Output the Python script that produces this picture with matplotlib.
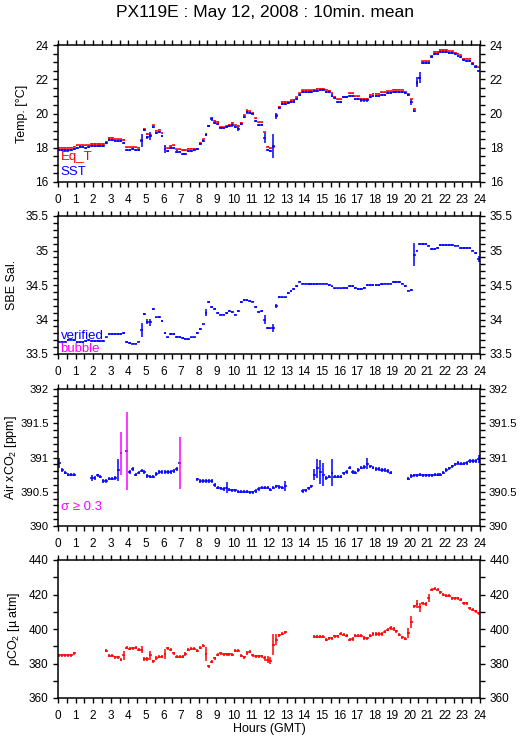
import numpy as np
import matplotlib
matplotlib.use('Agg')
import matplotlib.pyplot as plt
from matplotlib.ticker import MultipleLocator

plt.rcParams['font.family'] = ['Liberation Sans', 'DejaVu Sans']
plt.rcParams['mathtext.fontset'] = 'custom'
plt.rcParams['mathtext.rm'] = 'Liberation Sans'
plt.rcParams['mathtext.it'] = 'Liberation Sans:italic'

# 10-min slots, 144 per day
eq_t = [
    18.0, 18.0, 18.0, 18.0, 18.0, 18.06,
    18.14, 18.14, 18.14, 18.14, 18.14, 18.21,
    18.21, 18.21, 18.21, 18.21, 18.35, 18.56,
    18.56, 18.5, 18.5, 18.5, 18.45, 18.02,
    18.02, 18.02, 18.02, 18.0, 18.45, 19.1,
    18.8, 18.72, 19.3, 19.0, 19.05, 18.85,
    18.1, 17.96, 18.1, 18.14, 17.9, 17.9,
    17.86, 17.86, 17.95, 17.95, 17.95, 17.95,
    18.3, 18.5, 18.8, 19.27, 19.75, 19.57,
    19.5, 19.2, 19.2, 19.28, 19.35, 19.45,
    19.3, 19.27, 19.45, 19.9, 20.18, 20.12,
    20.05, 19.72, 19.48, 19.48, 18.9, 18.06,
    17.96, 18.06, 19.9, 20.4, 20.68, 20.68,
    20.7, 20.76, 20.8, 20.94, 21.17, 21.35,
    21.35, 21.35, 21.35, 21.4, 21.43, 21.45,
    21.45, 21.4, 21.33, 21.17, 20.98, 20.82,
    20.82, 20.98, 20.98, 21.17, 21.17, 21.0,
    21.0, 20.86, 20.86, 20.86, 21.07, 21.15,
    21.15, 21.15, 21.23, 21.23, 21.3, 21.3,
    21.4, 21.4, 21.4, 21.4, 21.27, 21.15,
    20.82, 20.27, 21.75, 22.1, 23.05, 23.05,
    23.05, 23.35, 23.6, 23.6, 23.7, 23.7,
    23.7, 23.63, 23.63, 23.55, 23.5, 23.4,
    23.2, 23.2, 23.2, 22.97, 22.8, 22.7,
]
sst = [
    17.88, 17.86, 17.84, 17.84, 17.88, 17.94,
    18.0, 18.02, 18.02, 18.0, 18.02, 18.08,
    18.1, 18.1, 18.1, 18.1, 18.25, 18.48,
    18.48, 18.42, 18.42, 18.42, 18.25, 17.88,
    17.88, 17.9, 17.88, 17.88, 18.42, 19.03,
    18.6, 18.68, 19.2, 18.88, 18.9, 18.7,
    17.9, 17.8, 18.0, 17.96, 17.78, 17.73,
    17.63, 17.65, 17.8, 17.8, 17.88, 17.9,
    18.2, 18.4, 18.74, 19.25, 19.65, 19.45,
    19.38, 19.14, 19.14, 19.2, 19.25, 19.3,
    19.2, 19.12, 19.36, 19.8, 20.06, 20.04,
    19.96, 19.57, 19.35, 19.35, 18.55, 17.86,
    17.8, 18.08, 19.87, 20.33, 20.58, 20.58,
    20.6, 20.66, 20.7, 20.86, 21.1, 21.25,
    21.25, 21.25, 21.25, 21.3, 21.31, 21.35,
    21.35, 21.28, 21.23, 21.05, 20.88, 20.68,
    20.68, 20.94, 20.94, 21.0, 21.0, 20.86,
    20.86, 20.76, 20.76, 20.76, 20.94, 21.0,
    21.0, 21.0, 21.07, 21.07, 21.17, 21.17,
    21.27, 21.27, 21.27, 21.25, 21.17, 21.07,
    20.66, 20.12, 21.85, 22.1, 22.95, 22.95,
    22.95, 23.3, 23.5, 23.5, 23.6, 23.6,
    23.6, 23.55, 23.52, 23.45, 23.35, 23.3,
    23.1, 23.08, 23.08, 22.88, 22.72, 22.5,
]
sst_sd_big = {28: 0.38, 31: 0.25, 36: 0.18, 61: 0.12, 70: 0.3, 73: 0.7,
              74: 0.18, 120: 0.15, 122: 0.3, 123: 0.32}

sal = [
    33.68, 33.68, 33.68, 33.7, 33.71, 33.7,
    33.67, 33.67, 33.67, 33.69, 33.7, 33.69,
    33.69, 33.69, 33.69, 33.69, 33.74, 33.79,
    33.79, 33.79, 33.79, 33.79, 33.8, 33.67,
    33.66, 33.65, 33.65, 33.68, 33.85, 34.08,
    33.97, 33.96, 34.15, 34.03, 34.04, 33.98,
    33.8, 33.74, 33.79, 33.79, 33.75, 33.75,
    33.73, 33.72, 33.72, 33.74, 33.74, 33.8,
    33.86, 33.93, 34.1, 34.25, 34.18, 34.15,
    34.09, 34.07, 34.07, 34.09, 34.12, 34.11,
    34.07, 34.12, 34.25, 34.28, 34.28, 34.27,
    34.26, 34.18, 34.11, 34.12, 34.0, 33.88,
    33.87, 33.88, 34.2, 34.33, 34.32, 34.32,
    34.38, 34.41, 34.44, 34.49, 34.55, 34.52,
    34.52, 34.51, 34.51, 34.51, 34.51, 34.52,
    34.52, 34.52, 34.5, 34.48, 34.45, 34.45,
    34.45, 34.46, 34.46, 34.49, 34.49, 34.46,
    34.44, 34.44, 34.46, 34.5, 34.5, 34.5,
    34.5, 34.5, 34.51, 34.52, 34.52, 34.52,
    34.54, 34.54, 34.54, 34.52, 34.49, 34.42,
    34.43, 34.94, 35.0, 35.09, 35.09, 35.09,
    35.07, 35.02, 35.02, 35.04, 35.08, 35.08,
    35.08, 35.08, 35.08, 35.07, 35.07, 35.04,
    35.04, 35.04, 35.04, 35.0, 34.96, 34.88,
]
sal_sd_big = {28: 0.1, 30: 0.04, 31: 0.05, 50: 0.05, 70: 0.06, 73: 0.06,
              74: 0.03, 121: 0.17, 143: 0.04}

nan = np.nan
xco2 = [
    390.92, 390.82, 390.78, 390.75, 390.75, 390.75,
    nan, nan, nan, nan, nan, 390.7,
    390.7, 390.74, 390.72, 390.66, 390.66, 390.69,
    390.69, 390.7, 390.82, 391.06, nan, 391.09,
    390.79, 390.83, 390.75, 390.78, 390.81, 390.79,
    390.73, 390.72, 390.72, 390.76, 390.79, 390.79,
    390.79, 390.79, 390.79, 390.8, 390.83, 390.92,
    nan, nan, nan, nan, nan, 390.68,
    390.66, 390.66, 390.66, 390.66, 390.66, 390.6,
    390.56, 390.55, 390.54, 390.56, 390.53, 390.52,
    390.52, 390.5, 390.5, 390.5, 390.5, 390.49,
    390.49, 390.51, 390.54, 390.56, 390.56, 390.56,
    390.53, 390.56, 390.58, 390.57, 390.56, 390.58,
    nan, nan, nan, nan, nan, 390.51,
    390.52, 390.55, 390.58, 390.75, 390.84, 390.79,
    390.75, 390.7, 390.72, 390.78, 390.72, 390.72,
    390.72, 390.77, 390.79, 390.85, 390.79, 390.78,
    390.82, 390.85, 390.86, 390.91, 390.87, 390.85,
    390.83, 390.83, 390.82, 390.82, 390.8, 390.78,
    nan, nan, nan, nan, nan, 390.69,
    390.73, 390.74, 390.74, 390.75, 390.74, 390.74,
    390.74, 390.74, 390.75, 390.75, 390.75, 390.78,
    390.82, 390.84, 390.87, 390.9, 390.92, 390.91,
    390.91, 390.92, 390.95, 390.95, 390.95, 390.98,
]
xco2_sd_big = {0: 0.07, 11: 0.05, 20: 0.16, 21: 0.31, 23: 0.57, 41: 0.38,
               57: 0.08, 77: 0.07, 87: 0.08, 88: 0.14, 89: 0.17, 90: 0.17,
               93: 0.2, 105: 0.08, 143: 0.06}

pco2 = [
    384.8, 384.8, 384.8, 384.8, 384.8, 385.8,
    nan, nan, nan, nan, nan, nan,
    nan, nan, nan, nan, 387.5, 384.4,
    384.4, 383.6, 383.6, 382.3, 384.8, 389.1,
    388.5, 388.7, 389.1, 388.1, 388.1, 382.6,
    382.6, 384.8, 381.3, 383.2, 383.8, 383.8,
    385.5, 388.7, 388.1, 385.8, 383.8, 383.8,
    383.8, 385.5, 388.1, 388.5, 388.5, 387.5,
    389.1, 390.4, 385.5, 378.4, 381.0, 382.9,
    385.2, 385.8, 385.4, 385.4, 385.4, 385.0,
    387.5, 387.5, 384.6, 383.6, 386.1, 386.7,
    384.8, 384.2, 384.2, 384.2, 382.9, 382.3,
    381.7, 391.0, 393.9, 396.4, 397.3, 398.1,
    nan, nan, nan, nan, nan, nan,
    nan, nan, nan, 395.6, 395.6, 395.6,
    395.6, 393.9, 394.5, 394.5, 395.8, 395.8,
    397.3, 396.7, 396.1, 393.9, 394.2, 396.1,
    396.1, 396.1, 394.8, 394.5, 396.1, 397.1,
    397.1, 397.1, 397.1, 398.3, 399.6, 400.6,
    400.0, 398.6, 396.7, 395.1, 394.4, 397.7,
    404.2, 413.1, 414.5, 412.5, 415.0, 414.5,
    418.0, 422.7, 423.3, 422.7, 421.4, 419.9,
    419.2, 419.2, 417.9, 417.9, 417.9, 416.9,
    415.0, 415.0, 412.1, 411.1, 410.2, 409.2,
]
pco2_sd_big = {22: 2.5, 28: 2.0, 31: 2.5, 36: 3.0, 50: 4.0, 70: 1.5,
               71: 2.0, 72: 2.0, 73: 6.0, 74: 3.0, 119: 3.0, 120: 3.5,
               122: 2.5, 123: 2.5, 126: 2.5}

hours = np.arange(144) / 6.0 + 1.0 / 12.0
half = 1.0 / 12.0
lw = 1.1


def sd_array(base, big):
    sd = np.full(144, base)
    for k, v in big.items():
        sd[k] = v
    return sd


def plot_series(ax, vals, sd, color):
    ax.errorbar(hours, vals, xerr=half, yerr=sd, fmt='none', ecolor=color,
                elinewidth=lw, capsize=0)


def style(ax, ylo, yhi, major, minor):
    ax.set_xlim(0, 24)
    ax.set_ylim(ylo, yhi)
    ax.xaxis.set_major_locator(MultipleLocator(1))
    ax.xaxis.set_minor_locator(MultipleLocator(0.5))
    ax.yaxis.set_major_locator(MultipleLocator(major))
    ax.yaxis.set_minor_locator(MultipleLocator(minor))
    ax.yaxis.set_major_formatter(plt.FuncFormatter(lambda v, p: '%g' % round(v, 3)))
    ax.tick_params(which='both', direction='out', length=3.4, width=1.0,
                   top=True, right=True, labelright=True, labelsize=8.5)
    ax.tick_params(axis='x', pad=5)
    ax.tick_params(axis='y', pad=3.5)
    for s in ax.spines.values():
        s.set_linewidth(1.1)


fig = plt.figure(figsize=(5.29, 7.39), dpi=100)
left, width = 58 / 529, 422 / 529
rows = [(45, 182), (216, 354), (389, 526), (560, 698)]
axes = [fig.add_axes([left, 1 - b / 739, width, (b - t) / 739]) for t, b in rows]

red, blue, mag = '#ff0000', '#0000ff', '#ff00ff'

# Temperature
ax = axes[0]
plot_series(ax, eq_t, sd_array(0.04, {}), red)
plot_series(ax, sst, sd_array(0.06, sst_sd_big), blue)
style(ax, 16, 24, 2, 0.5)
ax.set_ylabel('Temp. [°C]', fontsize=9, labelpad=5)
ax.text(0.006, 0.16, 'Eq_T', color=red, fontsize=9.5, transform=ax.transAxes)
ax.text(0.006, 0.05, 'SST', color=blue, fontsize=9.5, transform=ax.transAxes)

# Salinity
ax = axes[1]
plot_series(ax, sal, sd_array(0.012, sal_sd_big), blue)
style(ax, 33.5, 35.5, 0.5, 0.1)
ax.set_ylabel('SBE Sal.', fontsize=9, labelpad=5)
ax.text(0.006, 0.11, 'verified', color=blue, fontsize=9.5, transform=ax.transAxes)
ax.text(0.006, 0.015, 'bubble', color=mag, fontsize=9.5, transform=ax.transAxes)

# Air xCO2
ax = axes[2]
xsd = sd_array(0.025, xco2_sd_big)
xv = np.array(xco2)
ax.errorbar(hours, xv, xerr=half, fmt='none', ecolor=blue, elinewidth=lw, capsize=0)
small = xsd < 0.3
ax.errorbar(hours[small], xv[small], yerr=xsd[small], fmt='none', ecolor=blue,
            elinewidth=lw, capsize=0)
ax.errorbar(hours[~small], xv[~small], yerr=xsd[~small], fmt='none', ecolor=mag,
            elinewidth=lw, capsize=0)
style(ax, 390, 392, 0.5, 0.1)
ax.tick_params(axis='y', which='major', labelsize=8.2, pad=3)
ax.set_ylabel('Air xCO$_2$ [ppm]', fontsize=9, labelpad=1)
ax.text(0.006, 0.12, 'σ ≥ 0.3', color=mag, fontsize=9.5, transform=ax.transAxes)

# pCO2
ax = axes[3]
plot_series(ax, pco2, sd_array(0.9, pco2_sd_big), red)
style(ax, 360, 440, 20, 10)
ax.set_ylabel('ρCO$_2$ [µ atm]', fontsize=9, labelpad=5)
fig.text(269 / 529, 1 - 729 / 739, 'Hours (GMT)', ha='center', va='center', fontsize=9)

fig.text(0.5, 1 - 13 / 739, 'PX119E : May 12, 2008 : 10min. mean', ha='center',
         va='center', fontsize=12.5)

fig.savefig('out.png', dpi=100)
